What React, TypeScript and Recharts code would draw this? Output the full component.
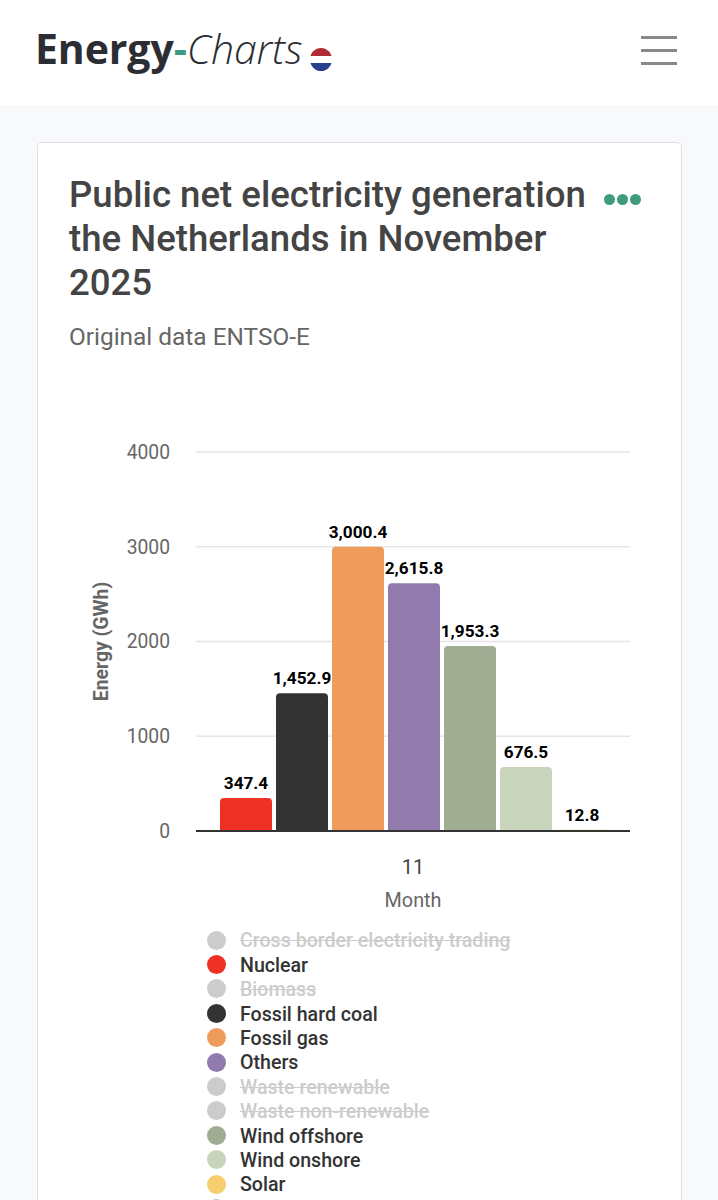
import React from "react";
import { BarChart, Bar, XAxis, YAxis, CartesianGrid, LabelList } from "recharts";

const MONTHS = ["11"];
const SERIES_NAMES = ["Nuclear", "Fossil hard coal", "Fossil gas", "Others", "Wind offshore", "Wind onshore", "Solar"];
const SERIES_VALUES = [347.4, 1452.9, 3000.4, 2615.8, 1953.3, 676.5, 12.8];
const SERIES_COLORS = ["#EE3124", "#333333", "#EE9B5C", "#917BAE", "#A0AD93", "#C8D5BC", "#F6CE6E"];
const Y_TICKS = [0, 1000, 2000, 3000, 4000];

const LEGEND_NAMES = [
  "Cross border electricity trading",
  "Nuclear",
  "Biomass",
  "Fossil hard coal",
  "Fossil gas",
  "Others",
  "Waste renewable",
  "Waste non-renewable",
  "Wind offshore",
  "Wind onshore",
  "Solar",
];

const FONT = "Roboto, sans-serif";

const chartData = MONTHS.map((month) => {
  const row: Record<string, string | number> = { month };
  SERIES_NAMES.forEach((name, i) => {
    row[name] = SERIES_VALUES[i];
  });
  return row;
});

const formatValue = (v: number) =>
  v.toLocaleString("en-US", { minimumFractionDigits: 1, maximumFractionDigits: 1 });

const Header = () => (
  <div style={{ position: "absolute", left: 0, top: 0, width: 718, height: 105, background: "#fff" }}>
    <div
      style={{
        position: "absolute",
        left: 35,
        top: 22,
        fontFamily: "'Open Sans', sans-serif",
        fontSize: 41,
        lineHeight: "52px",
        letterSpacing: -0.1,
        color: "#2b2d33",
        whiteSpace: "nowrap",
      }}
    >
      <span style={{ fontWeight: 700 }}>Energy</span>
      <span style={{ fontWeight: 700, color: "#3f9b7d" }}>-</span>
      <span style={{ fontStyle: "italic", fontWeight: 300 }}>Charts</span>
    </div>
    <div
      style={{
        position: "absolute",
        left: 310,
        top: 48,
        width: 22,
        height: 23,
        borderRadius: "50%",
        background: "linear-gradient(#ae2b33 0 33%, #fff 33% 66%, #27408b 66%)",
      }}
    />
    {[36, 49, 62].map((top) => (
      <div key={top} style={{ position: "absolute", left: 641, top, width: 36, height: 3, background: "#888" }} />
    ))}
  </div>
);

const LegendList = () => (
  <div style={{ position: "absolute", left: 207, top: 928 }}>
    {LEGEND_NAMES.map((name) => {
      const idx = SERIES_NAMES.indexOf(name);
      const active = idx >= 0;
      return (
        <div key={name} style={{ height: 24.4, display: "flex", alignItems: "center", whiteSpace: "nowrap" }}>
          <span
            style={{
              width: 19,
              height: 19,
              borderRadius: "50%",
              background: active ? SERIES_COLORS[idx] : "#cccccc",
              marginRight: 14,
            }}
          />
          <span
            style={{
              position: "relative",
              top: 0.7,
              fontFamily: FONT,
              fontSize: 19.6,
              fontWeight: 500,
              color: active ? "#333333" : "#cccccc",
              textDecoration: active ? "none" : "line-through",
            }}
          >
            {name}
          </span>
        </div>
      );
    })}
    <div
      style={{
        width: 19,
        height: 19,
        borderRadius: "50%",
        background: "#c4c6de",
        marginTop: 3,
      }}
    />
  </div>
);

export default function App() {
  return (
    <div
      style={{
        position: "absolute",
        left: 0,
        top: 0,
        width: 718,
        height: 1200,
        overflow: "hidden",
        background: "#f8f9fa",
        fontFamily: FONT,
      }}
    >
      <Header />
      <div
        style={{
          position: "absolute",
          left: 37,
          top: 142,
          width: 643,
          height: 1100,
          background: "#fff",
          border: "1px solid #dfe1e4",
          borderRadius: 5,
        }}
      />
      <div
        style={{
          position: "absolute",
          left: 69,
          top: 173,
          width: 530,
          fontSize: 36.6,
          fontWeight: 500,
          lineHeight: "44px",
          color: "#444444",
        }}
      >
        Public net electricity generation the Netherlands in November 2025
      </div>
      {[604, 617, 630].map((left) => (
        <div
          key={left}
          style={{
            position: "absolute",
            left,
            top: 194,
            width: 11,
            height: 11,
            borderRadius: "50%",
            background: "#3f9b7d",
          }}
        />
      ))}
      <div style={{ position: "absolute", left: 69, top: 322, fontSize: 24.4, color: "#666666" }}>
        Original data ENTSO-E
      </div>
      <div style={{ position: "absolute", left: 80, top: 430 }}>
        <BarChart
          width={570}
          height={490}
          data={chartData}
          margin={{ top: 22, right: 20, bottom: 0, left: 0 }}
          barSize={52}
          barGap={4}
        >
          <CartesianGrid vertical={false} stroke="#e6e6e6" strokeWidth={1.5} />
          <XAxis
            dataKey="month"
            padding={{ left: 2, right: 0 }}
            axisLine={{ stroke: "#333333", strokeWidth: 2 }}
            tickLine={false}
            tick={{ fill: "#444444", fontSize: 20, fontFamily: FONT, dx: -1 }}
            tickMargin={23}
            height={89}
            label={{ value: "Month", position: "insideBottom", offset: 13, fill: "#666666", fontSize: 19.8, fontFamily: FONT }}
          />
          <YAxis
            domain={[0, 4000]}
            ticks={Y_TICKS}
            width={116}
            axisLine={false}
            tickLine={false}
            tick={{ fill: "#666666", fontSize: 19.3, fontFamily: FONT }}
            tickMargin={20}
            label={{
              value: "Energy (GWh)",
              angle: -90,
              position: "insideLeft",
              offset: 21,
              style: { textAnchor: "middle", fill: "#666666", fontSize: 19.4, fontWeight: 700, fontFamily: FONT },
            }}
          />
          {SERIES_NAMES.map((name, i) => (
            <Bar key={name} dataKey={name} fill={SERIES_COLORS[i]} radius={[4, 4, 0, 0]} isAnimationActive={false}>
              <LabelList
                dataKey={name}
                position="top"
                offset={9}
                formatter={formatValue}
                style={{ fill: "#000000", fontSize: 17.2, fontWeight: 700, fontFamily: FONT }}
              />
            </Bar>
          ))}
        </BarChart>
      </div>
      <LegendList />
    </div>
  );
}
